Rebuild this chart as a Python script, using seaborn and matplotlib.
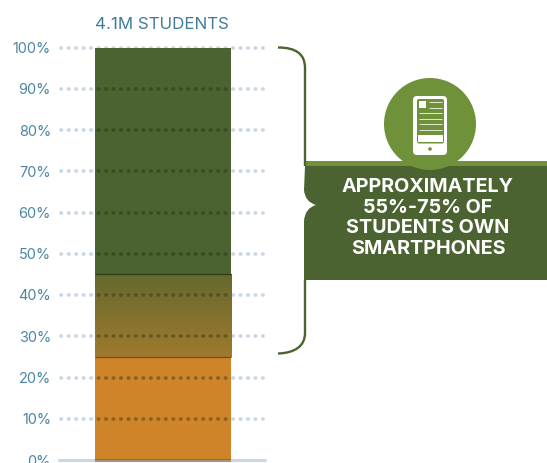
import numpy as np
import pandas as pd
import matplotlib
matplotlib.use("Agg")
import matplotlib.pyplot as plt
import seaborn as sns
from matplotlib.colors import LinearSegmentedColormap
from matplotlib.path import Path
from matplotlib.patches import PathPatch, Circle, Rectangle, FancyBboxPatch

# values
category = ["4.1M STUDENTS"]
no_phone = [25]
maybe_phone = [20]
own_phone = [55]
y_ticks = [0, 10, 20, 30, 40, 50, 60, 70, 80, 90, 100]
y_labels = ["0%", "10%", "20%", "30%", "40%", "50%", "60%", "70%", "80%", "90%", "100%"]
banner_lines = ["APPROXIMATELY", "55%-75% OF", "STUDENTS OWN", "SMARTPHONES"]

ORANGE = "#cf8429"
GREEN = "#4a6330"
LIGHT_GREEN = "#6f9139"
TEXT_BLUE = "#4a86a3"
DOT = "#cbd8e4"
W, H = 547, 463

sns.set_theme(style="white")
plt.rcParams["font.family"] = ["Inter", "DejaVu Sans"]
plt.rcParams["lines.scale_dashes"] = False

fig = plt.figure(figsize=(W / 100, H / 100), dpi=100)
ax = fig.add_axes([60 / W, 3 / H, 206 / W, 412.5 / H])

df = pd.DataFrame({"cat": category, "low": no_phone, "mid": maybe_phone, "high": own_phone})
df["mid_base"] = df["low"]
df["high_base"] = df["low"] + df["mid"]

bar_kw = dict(saturation=1, ax=ax, zorder=2, linewidth=0, edgecolor="none")
sns.barplot(data=df, x="cat", y="low", color=ORANGE, width=0.66, **bar_kw)
sns.barplot(data=df, x="cat", y="mid", bottom=df["mid_base"], color=ORANGE, width=0.665, **bar_kw)
sns.barplot(data=df, x="cat", y="high", bottom=df["high_base"], color=GREEN, width=0.66, **bar_kw)
low_bar, mid_bar, high_bar = ax.patches[0], ax.patches[1], ax.patches[2]

ax.set_xlim(-0.5, 0.5)
ax.set_ylim(0, 100)

# gradient for the uncertain middle part
mid_bar.set_visible(False)
cmap = LinearSegmentedColormap.from_list("mid", ["#65692f", "#a07a2e"])
bb_x0, bb_x1 = mid_bar.get_x(), mid_bar.get_x() + mid_bar.get_width()
bb_y0, bb_y1 = mid_bar.get_y(), mid_bar.get_y() + mid_bar.get_height()
ax.imshow(np.linspace(0, 1, 256).reshape(-1, 1), cmap=cmap, aspect="auto", origin="upper",
          extent=(bb_x0, bb_x1, bb_y0, bb_y1), zorder=2.5, interpolation="nearest")
ax.set_xlim(-0.5, 0.5)
ax.set_ylim(0, 100)
ax.plot([bb_x0, bb_x1], [bb_y1, bb_y1], color="#2e3a14", lw=0.9, zorder=3, solid_capstyle="butt")
ax.plot([bb_x0, bb_x1], [bb_y0, bb_y0], color="#7a4a10", lw=0.9, zorder=3, solid_capstyle="butt")

# dotted grid, pale behind the bar and dark on top of it
trans = ax.get_yaxis_transform()
bar_clip = Rectangle((low_bar.get_x(), -2), low_bar.get_width(), 102, transform=ax.transData)
dots = (0, (0.3, 5.08))
for t in y_ticks[1:]:
    ax.plot([1 / 206, 203 / 206], [t, t], transform=trans, color=DOT, lw=2.7,
            linestyle=dots, dash_capstyle="round", zorder=1, clip_on=False)
    dark, = ax.plot([1 / 206, 203 / 206], [t, t], transform=trans, color="#1e2a14", alpha=0.38, lw=2.7,
                    linestyle=dots, dash_capstyle="round", zorder=4)
    dark.set_clip_path(bar_clip)
    if t == 100:
        dark.set_visible(False)

ax.plot([-1 / 206, 205 / 206], [0, 0], transform=trans, color=DOT, lw=2.2, zorder=1, clip_on=False)
base, = ax.plot([-1 / 206, 205 / 206], [0, 0], transform=trans, color="#6b4a14", alpha=0.45, lw=2.2, zorder=4,
                solid_capstyle="butt")
base.set_clip_path(bar_clip)

ax.set_yticks(y_ticks)
ax.set_yticklabels(y_labels, fontsize=10.4, color=TEXT_BLUE)
ax.tick_params(axis="y", length=0, pad=6.5)
ax.set_xticks([])
ax.set_xlabel("")
ax.set_ylabel("")
ax.set_title(category[0], fontsize=12.2, color="#3f7c9c", pad=13, x=0.495)
sns.despine(ax=ax, left=True, bottom=True, top=True, right=True)

# callout drawn in pixel space on top of the chart
over = fig.add_axes([0, 0, 1, 1], facecolor="none")
over.set_xlim(0, W)
over.set_ylim(H, 0)
over.axis("off")

over.add_patch(Rectangle((305, 161), 242, 6, color=LIGHT_GREEN, lw=0, zorder=1))

banner = [
    (Path.MOVETO, (305, 166)), (Path.LINETO, (547, 166)), (Path.LINETO, (547, 280)),
    (Path.LINETO, (304, 280)), (Path.LINETO, (304, 221)),
    (Path.CURVE3, (305, 208)), (Path.CURVE3, (316, 205)),
    (Path.CURVE3, (305, 202)), (Path.CURVE3, (304, 190)),
    (Path.CLOSEPOLY, (305, 166)),
]
over.add_patch(PathPatch(Path([p for _, p in banner], [c for c, _ in banner]), fc=GREEN, ec="none", zorder=2))

brace_top = [
    (Path.MOVETO, (278, 47.5)), (Path.CURVE4, (296, 47.5)), (Path.CURVE4, (305, 54)),
    (Path.CURVE4, (305, 68)), (Path.LINETO, (305, 166)),
]
brace_bot = [
    (Path.MOVETO, (305, 280)), (Path.LINETO, (305, 333)), (Path.CURVE4, (305, 346)),
    (Path.CURVE4, (295, 353)), (Path.CURVE4, (278, 353.5)),
]
for seg in (brace_top, brace_bot):
    over.add_patch(PathPatch(Path([p for _, p in seg], [c for c, _ in seg]), fc="none", ec=GREEN,
                             lw=1.7, zorder=1.5, capstyle="butt"))

# phone icon
over.add_patch(Circle((430, 124), 46, fc=LIGHT_GREEN, ec="none", zorder=3))
over.add_patch(FancyBboxPatch((415, 98), 30, 55, boxstyle="round,pad=2,rounding_size=4",
                              fc="white", ec="none", zorder=4))
over.add_patch(FancyBboxPatch((418, 100), 25, 42.5, boxstyle="round,pad=1,rounding_size=2",
                              fc=LIGHT_GREEN, ec="none", zorder=5))
over.add_patch(Rectangle((419, 101), 7, 7, fc="white", ec="none", zorder=6))
over.add_patch(Rectangle((418, 135), 24.5, 6.5, fc="white", ec="none", zorder=6))
over.add_patch(Circle((430, 149), 1.8, fc=LIGHT_GREEN, ec="none", zorder=6))
for x0, yy in [(429, 101.5), (429, 107.5), (419, 113), (419, 118.5), (419, 124), (419, 129.5)]:
    over.plot([x0, 442], [yy, yy], color="white", lw=0.7, alpha=0.8, zorder=6, solid_capstyle="butt")

for yy, line in zip([187, 208, 228, 249], banner_lines):
    over.text(428, yy, line, color="white", fontsize=14.2, fontweight="bold", ha="center", va="center", zorder=7)

fig.savefig("out.png", dpi=100, facecolor="white")
